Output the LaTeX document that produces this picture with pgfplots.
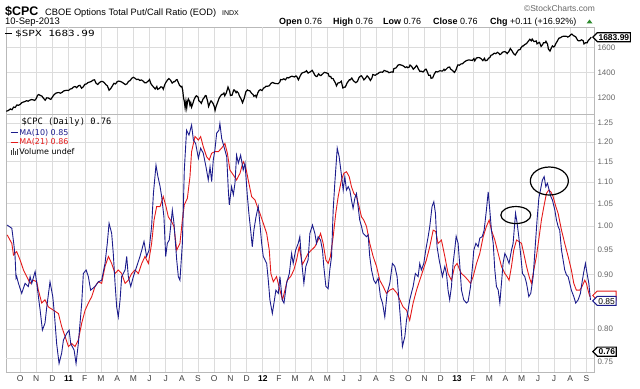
\documentclass[border=0pt]{standalone}
\usepackage{pgfplots}
\pgfplotsset{compat=1.18}
\usepackage{fontspec}
\setmainfont{Liberation Sans}
\newfontfamily\legfont{DejaVu Sans}
\newfontfamily\monofont{DejaVu Sans Mono}
\usetikzlibrary{shapes.symbols}
\definecolor{ma10}{HTML}{1C1C8C}
\definecolor{ma21}{HTML}{E41A1A}
\definecolor{gridc}{HTML}{DCDCDC}
\definecolor{tickc}{HTML}{666666}
\definecolor{upg}{HTML}{2E8B2E}
\begin{document}
\begin{tikzpicture}[x=1bp,y=1bp]
\path[use as bounding box] (0,0) rectangle (640,388);
\pgfplotsset{
  panel/.style={
    scale only axis, width=588bp,
    xmin=-0.87, xmax=35.47,
    xtick={0,...,35},
    yticklabel pos=right,
    grid=major,
    major grid style={gridc, line width=0.6bp},
    major tick length=0pt,
    axis line style={draw=gray!55, line width=0.6bp},
    ticklabel style={font=\fontsize{8}{9}\selectfont, text=tickc},
    extra x ticks={3,15,27},
    extra x tick labels={},
    extra x tick style={grid style={gray!45, line width=0.6bp}},
    /pgf/number format/assume math mode=true,
  }
}
% ---------------- lower panel ----------------
\begin{axis}[panel, at={(6bp,16bp)}, anchor=south west, height=258bp,
  ymode=log, ymin=0.7286, ymax=1.275,
  ytick={0.8,0.85,0.9,0.95,1,1.05,1.1,1.15,1.2,1.25},
  yticklabels={0.80,{},0.90,0.95,1.00,1.05,1.10,1.15,1.20,1.25},
  extra y ticks={0.75},
  extra y tick labels={0.75},
  extra y tick style={grid style={gridc, line width=0.6bp}, yticklabel style={yshift=-3bp}},
  xticklabels={O,N,D,\textbf{\color{black}11},F,M,A,M,J,J,A,S,O,N,D,\textbf{\color{black}12},F,M,A,M,J,J,A,S,O,N,D,\textbf{\color{black}13},F,M,A,M,J,J,A,S},
  xticklabel style={font=\fontsize{8.5}{9}\selectfont, text=black!75},
]
\addplot[ma21, line width=0.9bp] coordinates {
(-0.80,0.981)(-0.51,0.963)(-0.41,0.939)(-0.21,0.946)(0.00,0.929)(0.21,0.909)(0.41,0.896)(0.62,0.883)(0.82,0.889)(1.03,0.886)(1.13,0.870)(1.34,0.846)(1.54,0.852)(1.75,0.839)(2.06,0.833)(2.37,0.827)(2.57,0.804)(2.78,0.787)(2.99,0.770)(3.19,0.775)(3.40,0.770)(3.60,0.781)(3.81,0.810)(4.02,0.833)(4.22,0.846)(4.43,0.858)(4.63,0.877)(4.84,0.886)(5.04,0.883)(5.25,0.916)(5.46,0.936)(5.66,0.922)(5.87,0.902)(6.07,0.909)(6.28,0.902)(6.49,0.883)(6.69,0.889)(6.90,0.902)(7.10,0.909)(7.31,0.902)(7.52,0.922)(7.72,0.936)(7.93,0.922)(8.13,0.963)(8.28,1.013)(8.44,1.043)(8.65,1.043)(8.85,1.066)(9.02,1.043)(9.16,1.020)(9.37,1.009)(9.51,0.999)(9.68,0.949)(9.88,0.963)(10.03,1.013)(10.15,1.047)(10.34,1.062)(10.50,1.113)(10.60,1.175)(10.81,1.214)(11.02,1.205)(11.16,1.214)(11.32,1.188)(11.53,1.162)(11.69,1.154)(11.84,1.171)(12.04,1.175)(12.25,1.175)(12.46,1.184)(12.66,1.196)(12.81,1.171)(12.97,1.129)(13.18,1.117)(13.38,1.105)(13.59,1.121)(13.79,1.150)(13.94,1.137)(14.10,1.105)(14.31,1.066)(14.52,1.058)(14.66,1.043)(14.82,1.028)(15.03,1.006)(15.24,0.984)(15.40,0.949)(15.50,0.902)(15.65,0.886)(15.85,0.896)(16.06,0.870)(16.22,0.852)(16.37,0.870)(16.51,0.889)(16.72,0.896)(16.92,0.909)(17.09,0.929)(17.25,0.956)(17.45,0.920)(17.60,0.929)(17.80,0.942)(18.01,0.949)(18.22,0.956)(18.42,0.970)(18.57,0.984)(18.73,0.963)(18.90,0.929)(19.04,0.922)(19.18,0.936)(19.35,0.977)(19.51,1.028)(19.66,1.066)(19.86,1.105)(20.01,1.121)(20.17,1.125)(20.34,1.113)(20.48,1.089)(20.63,1.073)(20.79,1.066)(20.95,1.043)(21.10,1.020)(21.24,1.013)(21.41,0.999)(21.61,0.963)(21.82,0.936)(22.03,0.916)(22.23,0.889)(22.44,0.877)(22.64,0.864)(22.85,0.870)(23.05,0.873)(23.30,0.864)(23.47,0.852)(23.67,0.839)(23.88,0.833)(24.08,0.815)(24.29,0.846)(24.50,0.870)(24.70,0.889)(24.91,0.909)(25.11,0.929)(25.32,0.956)(25.53,0.991)(25.69,0.988)(25.83,0.963)(26.04,0.970)(26.25,0.936)(26.45,0.902)(26.66,0.889)(26.86,0.916)(27.01,0.922)(27.17,0.909)(27.28,0.902)(27.49,0.896)(27.69,0.889)(27.84,0.883)(28.00,0.896)(28.21,0.922)(28.41,0.942)(28.62,0.977)(28.82,0.999)(28.99,1.013)(29.13,0.991)(29.34,0.970)(29.55,0.942)(29.75,0.916)(29.96,0.902)(30.10,0.896)(30.22,0.889)(30.37,0.916)(30.51,0.949)(30.68,0.970)(30.82,0.967)(30.99,0.963)(31.13,0.942)(31.30,0.916)(31.46,0.896)(31.60,0.883)(31.75,0.909)(31.91,0.936)(32.08,0.977)(32.22,1.013)(32.37,1.043)(32.53,1.073)(32.67,1.081)(32.80,1.077)(32.94,1.066)(33.11,1.043)(33.25,1.028)(33.46,0.991)(33.66,0.963)(33.87,0.936)(34.07,0.909)(34.22,0.883)(34.38,0.870)(34.59,0.870)(34.73,0.877)(34.90,0.889)(35.00,0.883)(35.10,0.870)(35.21,0.858)
};
\addplot[ma10, line width=0.9bp] coordinates {
(-0.80,1.002)(-0.51,0.995)(-0.38,0.960)(-0.31,0.936)(-0.25,0.893)(-0.21,0.896)(-0.10,0.883)(0.10,0.864)(0.31,0.883)(0.51,0.877)(0.62,0.896)(0.72,0.883)(0.93,0.906)(1.03,0.883)(1.24,0.833)(1.38,0.798)(1.54,0.810)(1.65,0.839)(1.85,0.886)(2.02,0.858)(2.12,0.827)(2.26,0.775)(2.41,0.742)(2.57,0.759)(2.68,0.781)(2.88,0.792)(3.03,0.798)(3.13,0.775)(3.34,0.764)(3.46,0.742)(3.60,0.775)(3.81,0.846)(3.91,0.902)(4.08,0.909)(4.22,0.896)(4.36,0.870)(4.63,0.877)(4.84,0.886)(5.04,0.889)(5.25,0.922)(5.39,0.963)(5.50,1.006)(5.66,0.984)(5.76,0.942)(5.87,0.883)(5.97,0.839)(6.07,0.821)(6.18,0.852)(6.28,0.896)(6.49,0.909)(6.59,0.936)(6.69,0.896)(6.84,0.877)(7.00,0.896)(7.21,0.916)(7.41,0.936)(7.52,0.949)(7.66,0.967)(7.82,0.936)(7.97,0.949)(8.13,0.999)(8.24,1.073)(8.40,1.141)(8.52,1.113)(8.65,1.090)(8.75,1.066)(8.89,1.020)(9.00,0.936)(9.10,0.963)(9.22,0.970)(9.41,1.035)(9.51,1.006)(9.68,0.929)(9.78,0.896)(9.88,0.889)(10.03,0.963)(10.15,1.129)(10.29,1.231)(10.44,1.218)(10.60,1.245)(10.71,1.205)(10.85,1.196)(11.02,1.158)(11.16,1.184)(11.32,1.171)(11.49,1.137)(11.63,1.105)(11.74,1.137)(11.84,1.101)(11.94,1.154)(12.04,1.179)(12.15,1.223)(12.29,1.231)(12.35,1.249)(12.46,1.209)(12.60,1.188)(12.77,1.162)(12.87,1.081)(12.93,1.047)(13.07,1.089)(13.18,1.070)(13.28,1.097)(13.38,1.166)(13.49,1.146)(13.63,1.166)(13.79,1.129)(13.90,1.146)(14.04,1.070)(14.14,1.028)(14.25,0.991)(14.35,0.956)(14.45,0.991)(14.58,1.020)(14.72,1.043)(14.82,1.006)(14.93,0.963)(15.03,0.936)(15.24,0.922)(15.34,0.889)(15.44,0.852)(15.59,0.827)(15.69,0.846)(15.81,0.870)(15.96,0.864)(16.06,0.896)(16.20,0.852)(16.31,0.846)(16.47,0.883)(16.64,0.902)(16.78,0.942)(16.88,0.922)(17.03,0.949)(17.19,0.963)(17.29,0.977)(17.39,0.929)(17.54,0.883)(17.66,0.916)(17.80,0.929)(17.91,0.984)(18.07,1.002)(18.22,0.984)(18.32,0.963)(18.42,0.977)(18.57,0.970)(18.69,0.949)(18.77,0.916)(18.90,0.877)(19.04,0.873)(19.14,0.909)(19.25,0.936)(19.35,1.035)(19.45,1.097)(19.60,1.184)(19.72,1.162)(19.86,1.117)(19.97,1.081)(20.07,1.113)(20.17,1.081)(20.28,1.089)(20.38,1.081)(20.48,1.058)(20.58,1.039)(20.69,1.062)(20.79,1.073)(20.89,1.043)(20.99,1.013)(21.10,0.999)(21.20,0.984)(21.41,0.977)(21.51,0.981)(21.61,0.936)(21.72,0.909)(21.86,0.889)(21.98,0.883)(22.13,0.893)(22.27,0.858)(22.40,0.846)(22.54,0.821)(22.68,0.864)(22.85,0.883)(23.01,0.922)(23.16,0.916)(23.30,0.896)(23.43,0.846)(23.53,0.810)(23.63,0.770)(23.78,0.787)(23.88,0.815)(23.98,0.833)(24.08,0.852)(24.29,0.877)(24.43,0.902)(24.60,0.896)(24.70,0.922)(24.80,0.909)(24.95,0.922)(25.07,0.949)(25.22,0.977)(25.32,0.999)(25.46,1.043)(25.57,1.054)(25.67,1.028)(25.77,0.956)(25.90,0.929)(25.98,0.916)(26.10,0.896)(26.25,0.916)(26.35,0.902)(26.45,0.870)(26.55,0.852)(26.66,0.877)(26.76,0.922)(26.86,0.949)(26.95,0.978)(27.07,0.963)(27.18,0.916)(27.28,0.870)(27.42,0.852)(27.59,0.846)(27.69,0.849)(27.84,0.877)(27.96,0.916)(28.04,0.949)(28.17,0.963)(28.31,0.956)(28.41,0.974)(28.56,0.977)(28.68,0.991)(28.82,1.035)(28.93,1.077)(29.03,1.035)(29.13,0.991)(29.24,0.963)(29.34,0.909)(29.44,0.877)(29.55,0.870)(29.65,0.846)(29.75,0.883)(29.85,0.922)(29.96,0.942)(30.06,0.936)(30.22,0.922)(30.37,0.949)(30.47,0.963)(30.62,1.028)(30.72,1.006)(30.82,0.977)(30.95,0.936)(31.05,0.902)(31.19,0.896)(31.30,0.883)(31.44,0.858)(31.56,0.864)(31.71,0.896)(31.85,0.963)(31.95,1.013)(32.06,1.062)(32.16,1.081)(32.28,1.105)(32.39,1.113)(32.49,1.089)(32.59,1.097)(32.70,1.081)(32.80,1.066)(32.90,1.058)(33.05,1.035)(33.15,1.013)(33.25,0.999)(33.35,0.991)(33.46,0.949)(33.56,0.929)(33.66,0.909)(33.77,0.899)(33.87,0.896)(33.97,0.883)(34.07,0.870)(34.22,0.858)(34.34,0.846)(34.49,0.852)(34.63,0.864)(34.75,0.889)(34.86,0.909)(34.94,0.922)(35.04,0.902)(35.15,0.883)(35.25,0.852)
};
\draw[black, line width=1.2bp] (axis cs:30.64,1.024) ellipse [x radius=15bp, y radius=8.5bp];
\draw[black, line width=1.2bp] (axis cs:32.71,1.1025) ellipse [x radius=19bp, y radius=14bp];
\coordinate (t85) at (axis cs:35.47,0.85);
\coordinate (t86) at (axis cs:35.47,0.86);
\coordinate (t76) at (axis cs:35.47,0.7615);
\end{axis}
% ---------------- upper panel ----------------
\begin{axis}[panel, at={(6bp,274bp)}, anchor=south west, height=87bp,
  ymin=1069.6, ymax=1765.6,
  ytick={1200,1400,1600},
  yticklabels={1200,1400,1600},
  xticklabels={},
]
\addplot[black, line width=1.2bp] coordinates {
(-0.85,1091)(-0.72,1098)(-0.6,1110)(-0.5,1104)(-0.4,1125)(-0.3,1122)(-0.2,1142)(-0.1,1139)(0,1146)(0.1,1160)(0.2,1165)(0.3,1169)(0.4,1176)(0.5,1172)(0.6,1180)(0.7,1185)(0.8,1183)(0.9,1178)(1.0,1193)(1.08,1219)(1.15,1225)(1.25,1218)(1.35,1213)(1.45,1195)(1.55,1180)(1.65,1199)(1.75,1198)(1.85,1189)(1.9,1187)(2.0,1206)(2.1,1224)(2.2,1235)(2.3,1240)(2.4,1241)(2.5,1236)(2.6,1243)(2.7,1254)(2.8,1258)(2.9,1259)(3.0,1258)(3.1,1270)(3.2,1272)(3.3,1285)(3.4,1290)(3.5,1280)(3.6,1295)(3.7,1299)(3.8,1276)(3.9,1286)(4.0,1307)(4.1,1310)(4.2,1321)(4.3,1325)(4.4,1330)(4.5,1340)(4.6,1343)(4.7,1315)(4.8,1306)(4.9,1320)(5.0,1330)(5.1,1330)(5.2,1321)(5.3,1305)(5.4,1294)(5.5,1260)(5.6,1273)(5.7,1293)(5.8,1315)(5.9,1310)(6.0,1328)(6.1,1333)(6.2,1330)(6.3,1324)(6.4,1315)(6.5,1305)(6.6,1310)(6.7,1330)(6.8,1337)(6.9,1355)(7.0,1363)(7.1,1356)(7.2,1345)(7.3,1348)(7.4,1338)(7.5,1342)(7.6,1333)(7.7,1320)(7.8,1320)(7.9,1331)(8.0,1345)(8.08,1314)(8.15,1300)(8.25,1285)(8.35,1270)(8.45,1289)(8.5,1267)(8.6,1273)(8.7,1287)(8.8,1283)(8.85,1268)(8.95,1307)(9.0,1320)(9.1,1340)(9.2,1353)(9.3,1340)(9.4,1317)(9.5,1328)(9.55,1327)(9.65,1343)(9.7,1345)(9.8,1316)(9.85,1300)(9.95,1286)(10.0,1290)(10.05,1260)(10.1,1200)(10.15,1172)(10.2,1120)(10.25,1172)(10.3,1120)(10.35,1172)(10.4,1190)(10.45,1178)(10.5,1140)(10.55,1160)(10.6,1125)(10.7,1162)(10.75,1185)(10.85,1210)(10.9,1215)(11.0,1205)(11.05,1175)(11.15,1165)(11.2,1155)(11.3,1188)(11.35,1195)(11.45,1217)(11.5,1215)(11.6,1166)(11.65,1130)(11.75,1163)(11.8,1175)(11.9,1160)(12.0,1131)(12.05,1099)(12.1,1125)(12.2,1160)(12.3,1195)(12.35,1207)(12.45,1225)(12.5,1225)(12.6,1238)(12.65,1215)(12.75,1240)(12.85,1285)(12.95,1253)(13.0,1218)(13.1,1220)(13.2,1261)(13.25,1261)(13.35,1240)(13.4,1250)(13.5,1236)(13.55,1215)(13.65,1192)(13.75,1160)(13.85,1195)(13.95,1247)(14.05,1262)(14.1,1258)(14.2,1255)(14.3,1236)(14.4,1225)(14.45,1212)(14.55,1219)(14.6,1205)(14.7,1241)(14.75,1254)(14.85,1265)(14.95,1257)(15.05,1277)(15.1,1280)(15.2,1292)(15.3,1292)(15.4,1295)(15.5,1314)(15.6,1322)(15.7,1316)(15.8,1313)(15.95,1312)(16.05,1325)(16.1,1345)(16.2,1344)(16.3,1351)(16.4,1343)(16.5,1361)(16.6,1358)(16.7,1367)(16.8,1372)(16.95,1366)(17.05,1374)(17.1,1370)(17.2,1343)(17.3,1371)(17.4,1395)(17.5,1402)(17.55,1403)(17.65,1409)(17.7,1416)(17.8,1397)(17.95,1408)(18.05,1419)(18.15,1398)(18.2,1383)(18.3,1369)(18.35,1370)(18.45,1391)(18.55,1378)(18.6,1378)(18.7,1390)(18.8,1403)(18.95,1398)(19.05,1391)(19.1,1370)(19.2,1369)(19.25,1354)(19.35,1352)(19.4,1338)(19.5,1315)(19.55,1295)(19.65,1318)(19.75,1320)(19.85,1332)(19.95,1278)(20.05,1285)(20.1,1285)(20.2,1315)(20.25,1325)(20.35,1343)(20.4,1342)(20.5,1357)(20.6,1335)(20.7,1325)(20.75,1320)(20.85,1330)(20.95,1362)(21.05,1374)(21.1,1375)(21.2,1355)(21.25,1342)(21.35,1356)(21.45,1375)(21.55,1360)(21.65,1338)(21.75,1360)(21.8,1385)(21.95,1379)(22.05,1390)(22.1,1390)(22.2,1402)(22.3,1405)(22.4,1404)(22.5,1418)(22.6,1413)(22.7,1410)(22.8,1400)(22.95,1406)(23.05,1404)(23.1,1432)(23.2,1437)(23.25,1440)(23.35,1460)(23.45,1465)(23.55,1461)(23.65,1457)(23.75,1448)(23.8,1441)(23.9,1447)(23.95,1440)(24.05,1445)(24.1,1461)(24.2,1450)(24.3,1428)(24.4,1440)(24.5,1457)(24.55,1450)(24.6,1433)(24.7,1412)(24.8,1412)(24.9,1406)(24.95,1412)(25.05,1427)(25.1,1428)(25.2,1395)(25.25,1380)(25.35,1380)(25.4,1355)(25.5,1359)(25.6,1390)(25.7,1409)(25.8,1406)(25.95,1416)(26.05,1413)(26.1,1413)(26.2,1427)(26.25,1418)(26.35,1430)(26.45,1443)(26.55,1445)(26.6,1430)(26.7,1420)(26.8,1408)(26.85,1402)(26.95,1426)(27.05,1462)(27.15,1460)(27.25,1470)(27.35,1472)(27.45,1485)(27.55,1494)(27.65,1500)(27.75,1502)(27.85,1500)(27.95,1498)(28.05,1513)(28.1,1495)(28.2,1517)(28.3,1521)(28.4,1520)(28.5,1511)(28.6,1497)(28.7,1515)(28.75,1496)(28.85,1498)(28.95,1514)(29.05,1525)(29.1,1539)(29.2,1544)(29.3,1556)(29.4,1552)(29.5,1563)(29.6,1554)(29.65,1545)(29.75,1552)(29.8,1563)(29.95,1569)(30.05,1562)(30.1,1553)(30.2,1568)(30.3,1593)(30.4,1575)(30.5,1552)(30.6,1541)(30.7,1562)(30.8,1582)(30.9,1585)(30.95,1598)(31.05,1614)(31.1,1614)(31.2,1626)(31.3,1633)(31.4,1650)(31.5,1667)(31.6,1655)(31.65,1669)(31.75,1650)(31.8,1650)(31.9,1654)(31.95,1631)(32.05,1640)(32.1,1643)(32.2,1610)(32.3,1626)(32.35,1640)(32.45,1639)(32.5,1651)(32.6,1628)(32.65,1589)(32.75,1573)(32.85,1603)(32.9,1614)(32.98,1606)(33.05,1615)(33.1,1631)(33.2,1652)(33.3,1676)(33.4,1680)(33.5,1689)(33.6,1692)(33.7,1692)(33.8,1690)(33.85,1685)(33.95,1692)(34.05,1706)(34.1,1709)(34.2,1697)(34.3,1690)(34.35,1685)(34.45,1661)(34.5,1656)(34.6,1655)(34.7,1663)(34.8,1656)(34.85,1630)(34.95,1640)(35.05,1639)(35.1,1655)(35.2,1669)(35.3,1684)
};
\coordinate (tspx) at (axis cs:35.47,1683.99);
\end{axis}
% ---------------- tags ----------------
\tikzset{tag/.style={signal, signal to=west, fill=white, line width=1bp, inner xsep=1.2bp, inner ysep=0.6bp,
  font=\fontsize{8.5}{9}\selectfont\bfseries, minimum height=9bp, text height=6.2bp, text depth=0bp}}
\node[tag, draw=ma21, anchor=west] at ([xshift=-2bp]t86) {\phantom{0.86}};
\node[tag, draw=ma10, anchor=west, font=\fontsize{8.5}{9}\selectfont] at ([xshift=-2bp]t85) {0.85};
\node[tag, draw=black, anchor=west, line width=1.2bp] at ([xshift=-2bp]t76) {0.76};
\node[tag, draw=black, anchor=west, line width=1.2bp] at ([xshift=-2bp]tspx) {1683.99};
% ---------------- header ----------------
\node[anchor=base west, inner sep=0pt] at (5,373) {\fontsize{12.5}{13}\selectfont\bfseries \$CPC};
\node[anchor=base west, inner sep=0pt] at (45,373) {\fontsize{9.3}{10}\selectfont CBOE Options Total Put/Call Ratio (EOD)};
\node[anchor=base west, inner sep=0pt] at (222,373) {\fontsize{7}{8}\selectfont INDX};
\node[anchor=base east, inner sep=0pt, text=black!60] at (595,377) {\fontsize{8.5}{9}\selectfont \textcopyright StockCharts.com};
\node[anchor=base west, inner sep=0pt] at (5,364) {\fontsize{9.5}{10}\selectfont 10-Sep-2013};
\begin{scope}[every node/.style={anchor=base west, inner sep=0pt, font=\fontsize{9}{10}\selectfont}]
\node at (279,364) {\textbf{Open} 0.76};
\node at (333,364) {\textbf{High} 0.76};
\node at (383,364) {\textbf{Low} 0.76};
\node at (433,364) {\textbf{Close} 0.76};
\node at (490,364) {\textbf{Chg} +0.11 (+16.92\%)};
\end{scope}
\fill[upg] (586.5,364.5) -- (592.5,364.5) -- (589.5,368.5) -- cycle;
% ---------------- upper legend ----------------
\draw[black, line width=1.4bp] (5,354.5) -- (11.5,354.5);
\node[anchor=west, inner sep=0pt] at (15,354.5) {\scalebox{1.3}[1]{\monofont\fontsize{8.5}{9}\selectfont \$SPX 1683.99}};
% ---------------- lower legend ----------------
\node[anchor=west, inner sep=0pt] at (21.5,265.5) {\monofont\fontsize{8.8}{9}\selectfont \$CPC (Daily) 0.76};
\draw[ma10, line width=1.4bp] (10.5,255.5) -- (18,255.5);
\node[anchor=west, inner sep=0pt, text=ma10] at (19.3,255.5) {\legfont\fontsize{8}{9}\selectfont MA(10) 0.85};
\draw[ma21, line width=1.4bp] (10.5,245.8) -- (18,245.8);
\node[anchor=west, inner sep=0pt, text=ma21] at (19.3,245.8) {\legfont\fontsize{8}{9}\selectfont MA(21) 0.86};
\fill[black!75] (10.5,233) rectangle (11.8,238.5);
\fill[black!75] (12.6,233) rectangle (13.9,240.5);
\fill[black!75] (14.7,233) rectangle (16.0,237.5);
\fill[black!75] (16.8,233) rectangle (18.1,239.5);
\node[anchor=west, inner sep=0pt] at (19.3,236.3) {\legfont\fontsize{8}{9}\selectfont Volume undef};
\end{tikzpicture}
\end{document}
